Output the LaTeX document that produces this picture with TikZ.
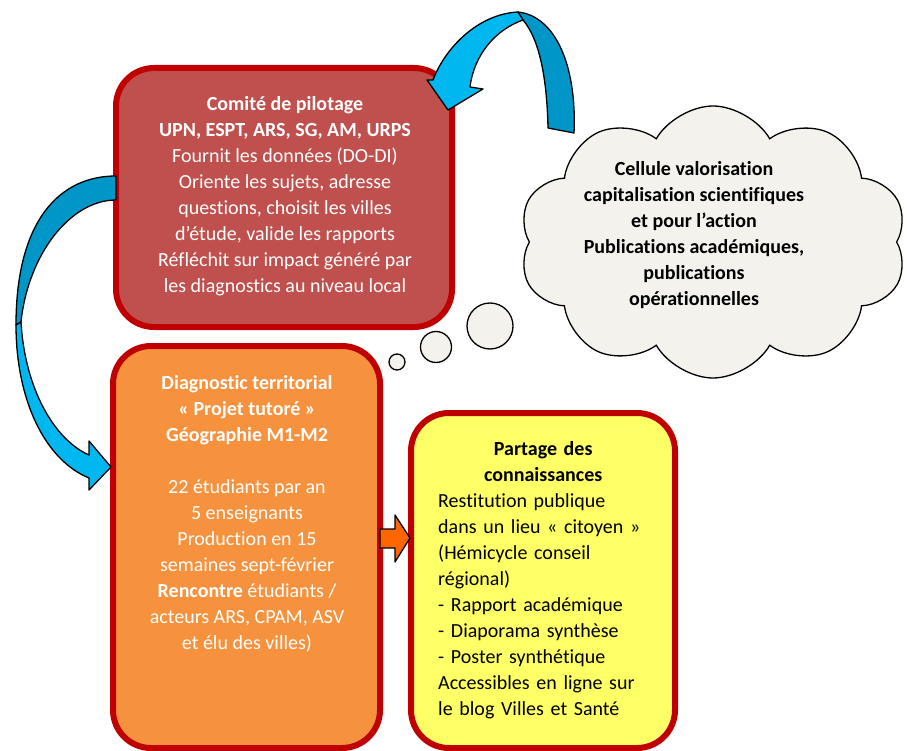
\documentclass[tikz,border=0pt]{standalone}
\usepackage{fontspec}
\setmainfont{Carlito}[Ligatures={NoCommon,NoContextual}]
\usetikzlibrary{shapes.symbols}

\definecolor{pilotred}{RGB}{192,80,77}
\definecolor{borderred}{RGB}{192,0,0}
\definecolor{diagorange}{RGB}{246,146,62}
\definecolor{partyellow}{RGB}{255,255,102}
\definecolor{cloudgray}{RGB}{243,242,236}
\definecolor{arrowlight}{RGB}{0,183,239}
\definecolor{arrowdark}{RGB}{0,150,200}
\definecolor{arroworange}{RGB}{255,102,0}

\tikzset{
	box/.style={draw=borderred, line width=6pt, rounded corners=38pt, inner sep=0pt},
	boxtext/.style={anchor=north, inner sep=0pt, align=center, font=\fontsize{20}{26}\selectfont},
	bubble/.style={circle, draw=black, line width=1.3pt, fill=cloudgray, inner sep=0pt},
	ribbon/.style={draw=black, line width=1.3pt, line join=round},
}

\begin{document}
\begin{tikzpicture}[x=1pt,y=-1pt]
	\useasboundingbox (0,0) rectangle (907,751);

	\node[box, fill=pilotred, minimum width=336pt, minimum height=259pt] (pilot) at (284,197.5) {};
	\node[box, fill=diagorange, minimum width=267pt, minimum height=402pt] (diag) at (246.5,547) {};
	\node[box, fill=partyellow, minimum width=264pt, minimum height=335pt] (partage) at (543,580.5) {};

	\node[boxtext, text=white] (pilottxt) at (285,92) {\strut\textbf{Comité de pilotage}\\
		\textbf{UPN, ESPT, ARS, SG, AM, URPS}\\
		Fournit les données (DO-DI)\\
		Oriente les sujets, adresse\\
		questions, choisit les villes\\
		d’étude, valide les rapports\\
		Réfléchit sur impact généré par\\
		les diagnostics au niveau local};

	\node[boxtext, text=white] (diagtxt) at (247,371) {\strut\textbf{Diagnostic territorial}\\
		\textbf{« Projet tutoré »}\\
		\textbf{Géographie M1-M2}\\[26pt]
		22 étudiants par an\\
		5 enseignants\\
		Production en 15\\
		semaines sept-février\\
		\textbf{Rencontre} étudiants /\\
		acteurs ARS, CPAM, ASV\\
		et élu des villes)};

	\node[boxtext, anchor=north west, align=left, text width=210pt] (partagetxt) at (438,437) {{\centering\bfseries\strut Partage des\\ connaissances\par}
		\raggedright Restitution publique\\
		dans un lieu « citoyen »\\
		(Hémicycle conseil\\
		régional)\\
		- Rapport académique\\
		- Diaporama synthèse\\
		- Poster synthétique\\
		Accessibles en ligne sur\\
		le blog Villes et Santé};

	\filldraw[ribbon, fill=arrowdark] (548,128) -- (574,133) .. controls (577,65) and (555,16) .. (518,12) -- (523,20) .. controls (540,40) and (547,80) .. (548,128) -- cycle;
	\filldraw[ribbon, fill=arrowlight] (518,12) .. controls (478,14) and (445,48) .. (433,80) -- (427,80) -- (448,110) -- (483,89) -- (470,87) .. controls (474,55) and (495,30) .. (523,20) -- cycle;

	\filldraw[ribbon, fill=arrowdark] (116,176) .. controls (60,176) and (16,220) .. (16,325) -- (21,322) .. controls (28,255) and (70,200) .. (116,200) -- cycle;
	\filldraw[ribbon, fill=arrowlight] (16,325) .. controls (16,400) and (45,460) .. (89,478) -- (89,490) -- (111,467) -- (89,441) -- (89,455) .. controls (55,440) and (25,390) .. (21,322) -- cycle;

	\filldraw[ribbon, fill=arroworange] (380,529) -- (395,529) -- (395,515) -- (410,538) -- (395,562) -- (395,548) -- (380,548) -- cycle;

	\node[cloud, cloud puffs=10, cloud puff arc=120, draw=black, line width=1.3pt, fill=cloudgray, minimum width=388pt, minimum height=272pt, inner sep=0pt] (cellule) at (713,242) {};
	\node[bubble, minimum size=46pt] (bulle1) at (490,326) {};
	\node[bubble, minimum size=31pt] (bulle2) at (436,347) {};
	\node[bubble, minimum size=16pt] (bulle3) at (397,362) {};

	\node[boxtext, font=\fontsize{20}{26}\selectfont\bfseries] (celluletxt) at (694,157) {\strut Cellule valorisation\\
		capitalisation scientifiques\\
		et pour l’action\\
		Publications académiques,\\
		publications\\
		opérationnelles};
\end{tikzpicture}
\end{document}
